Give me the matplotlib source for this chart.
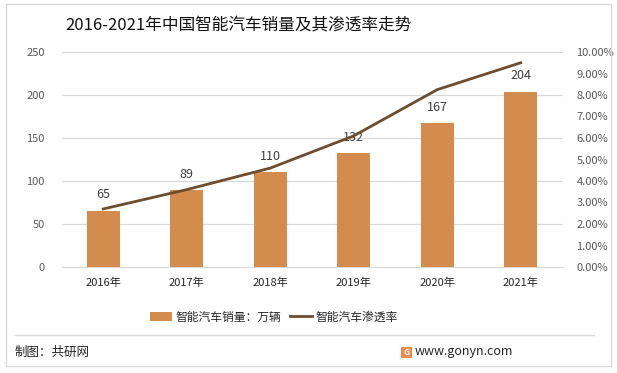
import matplotlib
matplotlib.use("Agg")
import matplotlib.pyplot as plt
from matplotlib.patches import Rectangle, Patch
from matplotlib.lines import Line2D
from matplotlib.ticker import FuncFormatter

plt.rcParams['font.family'] = ['Noto Sans CJK SC', 'DejaVu Sans']

years = ["2016年", "2017年", "2018年", "2019年", "2020年", "2021年"]
sales = [65, 89, 110, 132, 167, 204]
rate = [2.7, 3.6, 4.6, 6.1, 8.25, 9.5]

title = "2016-2021年中国智能汽车销量及其渗透率走势"
bar_label = "智能汽车销量：万辆"
line_label = "智能汽车渗透率"

W, H = 617, 373
fig = plt.figure(figsize=(W/100, H/100), dpi=100)
fig.patch.set_facecolor('white')

def fx(x): return x / W
def fy(y): return 1 - y / H

ax = fig.add_axes([fx(61.5), fy(267), fx(562.5) - fx(61.5), fy(52) - fy(267)])
ax2 = ax.twinx()

x = list(range(len(years)))
bars = ax.bar(x, sales, width=0.4, color='#D38C4E', zorder=3)
ax.set_ylim(0, 250)
ax.set_yticks(range(0, 251, 50))
ax.set_xlim(-0.5, 5.5)
ax.set_xticks(x)
ax.set_xticklabels(years)
ax.grid(axis='y', color='#D9D9D9', linewidth=0.9, zorder=0)
for s in ['top', 'right', 'left']:
    ax.spines[s].set_visible(False)
ax.spines['bottom'].set_color('#D9D9D9')
ax.tick_params(axis='both', length=0, labelsize=8, colors='#595959')
ax.tick_params(axis='x', colors='#262626', pad=8)
ax.tick_params(axis='y', pad=12)

for xi, v in zip(x, sales):
    ax.annotate(str(v), (xi, v), xytext=(0, 7), textcoords='offset points',
                ha='center', va='bottom', fontsize=9, color='#404040', zorder=5)

ax2.plot(x, rate, color='#6E4C2E', linewidth=2.0, zorder=4)
ax2.set_ylim(0, 10)
ax2.set_yticks(range(0, 11))
ax2.yaxis.set_major_formatter(FuncFormatter(lambda v, p: f"{v:.2f}%"))
for s in ['top', 'right', 'left', 'bottom']:
    ax2.spines[s].set_visible(False)
ax2.tick_params(axis='y', length=0, labelsize=8, colors='#595959', pad=10)

fig.text(fx(238), fy(25), title, ha='center', va='center', fontsize=12, color='#111111')

handles = [Patch(facecolor='#D38C4E', edgecolor='none'),
           Line2D([0], [0], color='#6E4C2E', linewidth=2.0)]
fig.legend(handles, [bar_label, line_label], loc='center',
           bbox_to_anchor=(fx(274), fy(317)), ncol=2, frameon=False,
           fontsize=8.5, handlelength=1.8, handletextpad=0.3, columnspacing=0.8,
           labelcolor='#262626')

# border and separator
fig.add_artist(Rectangle((fx(6), fy(366)), fx(611) - fx(6), fy(4) - fy(366),
                         transform=fig.transFigure, fill=False, edgecolor='#D9D9D9', linewidth=1))
fig.add_artist(Line2D([fx(15), fx(594)], [fy(335), fy(335)], transform=fig.transFigure,
                      color='#D9D9D9', linewidth=1))

fig.text(fx(15), fy(352), "制图：共研网", ha='left', va='center', fontsize=9, color='#262626')
fig.add_artist(Rectangle((fx(401), fy(358)), fx(412) - fx(401), fy(347) - fy(358),
                         transform=fig.transFigure, facecolor='#F08A4B', edgecolor='none'))
fig.text(fx(406.5), fy(352.5), "G", ha='center', va='center', fontsize=6, color='white', weight='bold')
fig.text(fx(415), fy(352), "www.gonyn.com", ha='left', va='center', fontsize=9, color='#262626')

fig.savefig("out.png", dpi=100, facecolor='white')
